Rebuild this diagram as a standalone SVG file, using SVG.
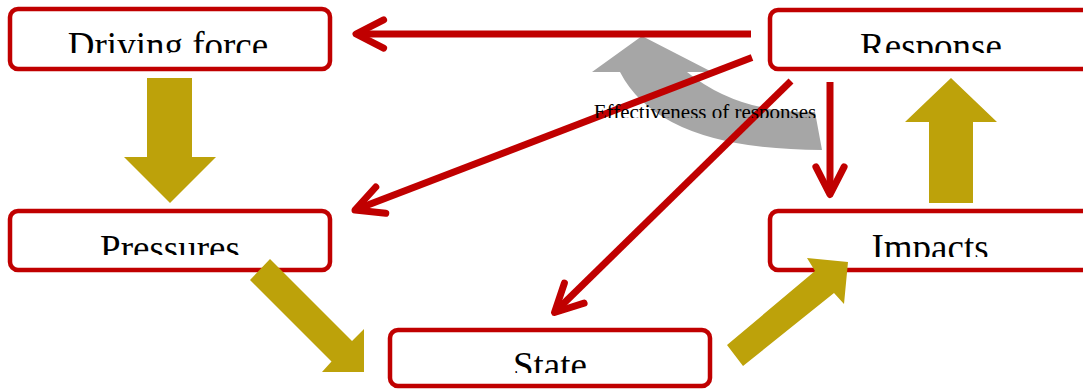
<svg xmlns="http://www.w3.org/2000/svg" width="1083" height="389" viewBox="0 0 1083 389">
<style>
.box{fill:#ffffff;stroke:#c00000;stroke-width:4.5}
.lbl{font-family:"Liberation Serif","Times New Roman",serif;font-size:37px;fill:#000000;text-anchor:middle}
.gold{fill:#bda20a}
.gray{fill:#a6a6a6}
.line{stroke:#c00000;stroke-width:7;fill:none;stroke-linecap:butt}
.head{stroke:#c00000;stroke-width:7;fill:none;stroke-linecap:round;stroke-linejoin:round}
.small{font-family:"Liberation Serif","Times New Roman",serif;font-size:21px;fill:#000000;text-anchor:middle}
</style>
<defs>
<clipPath id="cDriving" clipPathUnits="userSpaceOnUse"><rect x="10" y="9" width="320" height="44"/></clipPath>
<clipPath id="cResponse" clipPathUnits="userSpaceOnUse"><rect x="770" y="10" width="322" height="43"/></clipPath>
<clipPath id="cPressures" clipPathUnits="userSpaceOnUse"><rect x="10" y="211" width="320" height="44"/></clipPath>
<clipPath id="cImpacts" clipPathUnits="userSpaceOnUse"><rect x="770" y="211" width="322" height="46"/></clipPath>
<clipPath id="cState" clipPathUnits="userSpaceOnUse"><rect x="390" y="330" width="320" height="43"/></clipPath>
<clipPath id="cEff" clipPathUnits="userSpaceOnUse"><rect x="580" y="95" width="260" height="23"/></clipPath>
</defs>
<rect x="0" y="0" width="1083" height="389" fill="#ffffff"/>
<g id="node-driving-force">
<rect class="box" x="10" y="9" width="320" height="60" rx="8"/>
<text class="lbl" x="168" y="58" clip-path="url(#cDriving)">Driving force</text>
</g>
<g id="node-response">
<rect class="box" x="770" y="10" width="322" height="59" rx="8"/>
<text class="lbl" x="931" y="59" clip-path="url(#cResponse)">Response</text>
</g>
<g id="node-pressures">
<rect class="box" x="10" y="211" width="320" height="59" rx="8"/>
<text class="lbl" x="170" y="260.5" clip-path="url(#cPressures)">Pressures</text>
</g>
<g id="node-impacts">
<rect class="box" x="770" y="211" width="322" height="59" rx="8"/>
<text class="lbl" x="930" y="259.5" clip-path="url(#cImpacts)">Impacts</text>
</g>
<g id="node-state">
<rect class="box" x="390" y="330" width="320" height="56" rx="8"/>
<text class="lbl" x="550" y="377.5" clip-path="url(#cState)">State</text>
</g>
<g id="connectors">
<polygon class="gold" points="147,78 192,78 192,157 216,157 170,203 124,157 147,157"/>
<polygon class="gold" points="929,203 973,203 973,122 997,122 951,78 905,122 929,122"/>
<polygon class="gold" points="270,259 352,341 364,329 364,372 322,372 331.5,361.5 250,280"/>
<polygon class="gold" points="727,345 815,271 807,258 848,262 844,304 834,293 743,366"/>
<path class="gray" d="M642,36 L712,72 L687,72 Q739,114 815,112 L822,150 Q660,150 620,72 L592,72 Z"/>
<line class="line" x1="751" y1="34" x2="358" y2="34"/>
<polyline class="head" points="383.6,19.9 356,34 383.6,48.1"/>
<line class="line" x1="752" y1="57.5" x2="358" y2="208.8"/>
<polyline class="head" points="385.8,213.3 355,210 375.8,187"/>
<line class="line" x1="791" y1="81" x2="557" y2="310"/>
<polyline class="head" points="584.1,303.2 554.5,312.5 564.4,283.1"/>
<line class="line" x1="830" y1="82" x2="830" y2="192"/>
<polyline class="head" points="815.9,166.9 830,194.5 844.1,166.9"/>
<text class="small" x="705" y="119" clip-path="url(#cEff)">Effectiveness of responses</text>
</g>
</svg>
